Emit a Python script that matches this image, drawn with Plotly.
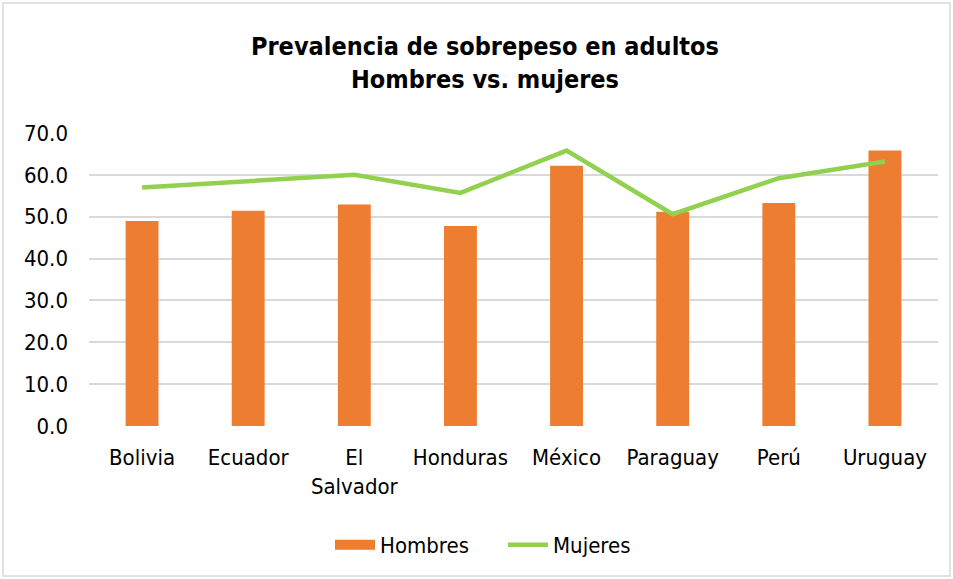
import plotly.graph_objects as go

# Data
paises = ["Bolivia", "Ecuador", "El<br>Salvador", "Honduras", "México", "Paraguay", "Perú", "Uruguay"]
hombres = [49.0, 51.4, 52.9, 47.8, 62.2, 51.2, 53.3, 65.8]
mujeres = [57.0, 58.5, 60.0, 55.7, 65.8, 50.6, 59.2, 63.2]
y_ticks = [0, 10, 20, 30, 40, 50, 60, 70]

FONT = "DejaVu Sans Condensed, Liberation Sans, Arial, sans-serif"
ORANGE = "#ED7D31"
GREEN = "#92D050"

fig = go.Figure()

fig.add_trace(go.Bar(
    x=paises, y=hombres, name="Hombres",
    marker=dict(color=ORANGE, line=dict(width=0)),
    width=0.31, showlegend=False
))

# legend swatch for the bars (wide rectangle like the original)
fig.add_trace(go.Scatter(
    x=[None], y=[None], name="Hombres",
    mode="lines", line=dict(color=ORANGE, width=14),
    hoverinfo="skip"
))

fig.add_trace(go.Scatter(
    x=paises, y=mujeres, name="Mujeres",
    mode="lines",
    line=dict(color=GREEN, width=4.5)
))

W, H = 953, 579
ml, mr, mt, mb = 89, 15, 133, 153
pw = W - ml - mr
ph = H - mt - mb

fig.update_layout(
    width=W, height=H,
    margin=dict(l=ml, r=mr, t=mt, b=mb),
    paper_bgcolor="white",
    plot_bgcolor="white",
    font=dict(family=FONT, size=22, color="#000000"),
    title=dict(
        text="<b>Prevalencia de sobrepeso en adultos<br>Hombres vs. mujeres</b>",
        x=485 / W, xanchor="center",
        y=1 - 55 / H, yanchor="middle",
        font=dict(family=FONT, size=25, color="#000000")
    ),
    xaxis=dict(
        showgrid=False, zeroline=False, showline=False,
        ticks="", tickfont=dict(size=22),
        ticklabelstandoff=16
    ),
    yaxis=dict(
        range=[0, 70], tickvals=y_ticks,
        tickformat=".1f",
        showgrid=True, gridcolor="#D9D9D9", gridwidth=1.5,
        zeroline=False, showline=False, ticks="",
        ticklabelstandoff=20,
        tickfont=dict(size=22)
    ),
    legend=dict(
        orientation="h",
        x=(330 - ml) / pw, xanchor="left",
        y=-(545 - (H - mb)) / ph, yanchor="middle",
        font=dict(size=22),
        itemwidth=40,
        entrywidth=118, entrywidthmode="pixels",
        tracegroupgap=0
    ),
    showlegend=True,
    bargap=0.69
)

# chart border
fig.add_shape(
    type="rect", xref="paper", yref="paper",
    x0=(3 - ml) / pw, x1=(W - 3 - ml) / pw,
    y0=-(H - 3 - (H - mb)) / ph, y1=1 + (mt - 3) / ph,
    line=dict(color="#D9D9D9", width=1.5), fillcolor="rgba(0,0,0,0)",
    layer="below"
)

fig.write_html("out.html", config={"displayModeBar": False},
               post_script="document.body.style.margin='0px';")
